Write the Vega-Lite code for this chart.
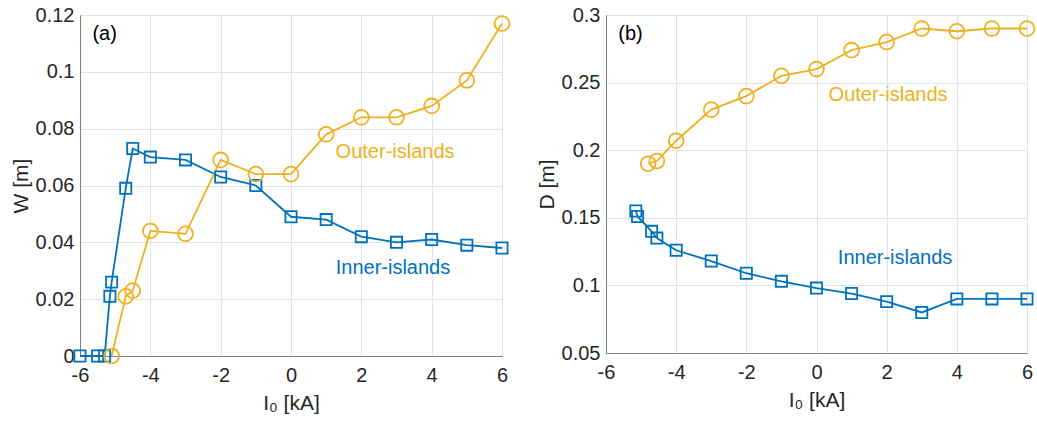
{
  "$schema": "https://vega.github.io/schema/vega-lite/v6.json",
  "background": "white",
  "padding": {"left": 9, "top": 4, "right": 1, "bottom": 2},
  "spacing": 21,
  "config": {
    "font": "Liberation Sans",
    "view": {"stroke": "#808080", "strokeWidth": 1},
    "axis": {
      "domainColor": "#808080",
      "gridColor": "#e3e3e3",
      "gridWidth": 1,
      "ticks": false,
      "labelFontSize": 20,
      "labelColor": "#262626",
      "labelFont": "Liberation Sans",
      "labelFlush": false,
      "labelOverlap": false,
      "titleFont": "Liberation Sans",
      "titleFontSize": 21,
      "titleFontWeight": "normal",
      "titleColor": "#262626",
      "labelPadding": 6
    },
    "axisX": {"labelPadding": 9}
  },
  "datasets": {
    "pts": [
      {"panel": "a", "series": "Inner-islands", "I0": -6, "v": 0},
      {"panel": "a", "series": "Inner-islands", "I0": -5.5, "v": 0},
      {"panel": "a", "series": "Inner-islands", "I0": -5.3, "v": 0},
      {"panel": "a", "series": "Inner-islands", "I0": -5.15, "v": 0.021},
      {"panel": "a", "series": "Inner-islands", "I0": -5.1, "v": 0.026},
      {"panel": "a", "series": "Inner-islands", "I0": -4.7, "v": 0.059},
      {"panel": "a", "series": "Inner-islands", "I0": -4.5, "v": 0.073},
      {"panel": "a", "series": "Inner-islands", "I0": -4, "v": 0.070},
      {"panel": "a", "series": "Inner-islands", "I0": -3, "v": 0.069},
      {"panel": "a", "series": "Inner-islands", "I0": -2, "v": 0.063},
      {"panel": "a", "series": "Inner-islands", "I0": -1, "v": 0.060},
      {"panel": "a", "series": "Inner-islands", "I0": 0, "v": 0.049},
      {"panel": "a", "series": "Inner-islands", "I0": 1, "v": 0.048},
      {"panel": "a", "series": "Inner-islands", "I0": 2, "v": 0.042},
      {"panel": "a", "series": "Inner-islands", "I0": 3, "v": 0.040},
      {"panel": "a", "series": "Inner-islands", "I0": 4, "v": 0.041},
      {"panel": "a", "series": "Inner-islands", "I0": 5, "v": 0.039},
      {"panel": "a", "series": "Inner-islands", "I0": 6, "v": 0.038},
      {"panel": "a", "series": "Outer-islands", "I0": -5.1, "v": 0},
      {"panel": "a", "series": "Outer-islands", "I0": -4.7, "v": 0.021},
      {"panel": "a", "series": "Outer-islands", "I0": -4.5, "v": 0.023},
      {"panel": "a", "series": "Outer-islands", "I0": -4, "v": 0.044},
      {"panel": "a", "series": "Outer-islands", "I0": -3, "v": 0.043},
      {"panel": "a", "series": "Outer-islands", "I0": -2, "v": 0.069},
      {"panel": "a", "series": "Outer-islands", "I0": -1, "v": 0.064},
      {"panel": "a", "series": "Outer-islands", "I0": 0, "v": 0.064},
      {"panel": "a", "series": "Outer-islands", "I0": 1, "v": 0.078},
      {"panel": "a", "series": "Outer-islands", "I0": 2, "v": 0.084},
      {"panel": "a", "series": "Outer-islands", "I0": 3, "v": 0.084},
      {"panel": "a", "series": "Outer-islands", "I0": 4, "v": 0.088},
      {"panel": "a", "series": "Outer-islands", "I0": 5, "v": 0.097},
      {"panel": "a", "series": "Outer-islands", "I0": 6, "v": 0.117},
      {"panel": "b", "series": "Inner-islands", "I0": -5.15, "v": 0.155},
      {"panel": "b", "series": "Inner-islands", "I0": -5.1, "v": 0.151},
      {"panel": "b", "series": "Inner-islands", "I0": -4.7, "v": 0.140},
      {"panel": "b", "series": "Inner-islands", "I0": -4.55, "v": 0.135},
      {"panel": "b", "series": "Inner-islands", "I0": -4, "v": 0.126},
      {"panel": "b", "series": "Inner-islands", "I0": -3, "v": 0.118},
      {"panel": "b", "series": "Inner-islands", "I0": -2, "v": 0.109},
      {"panel": "b", "series": "Inner-islands", "I0": -1, "v": 0.103},
      {"panel": "b", "series": "Inner-islands", "I0": 0, "v": 0.098},
      {"panel": "b", "series": "Inner-islands", "I0": 1, "v": 0.094},
      {"panel": "b", "series": "Inner-islands", "I0": 2, "v": 0.088},
      {"panel": "b", "series": "Inner-islands", "I0": 3, "v": 0.080},
      {"panel": "b", "series": "Inner-islands", "I0": 4, "v": 0.090},
      {"panel": "b", "series": "Inner-islands", "I0": 5, "v": 0.090},
      {"panel": "b", "series": "Inner-islands", "I0": 6, "v": 0.090},
      {"panel": "b", "series": "Outer-islands", "I0": -4.8, "v": 0.190},
      {"panel": "b", "series": "Outer-islands", "I0": -4.55, "v": 0.192},
      {"panel": "b", "series": "Outer-islands", "I0": -4, "v": 0.207},
      {"panel": "b", "series": "Outer-islands", "I0": -3, "v": 0.230},
      {"panel": "b", "series": "Outer-islands", "I0": -2, "v": 0.240},
      {"panel": "b", "series": "Outer-islands", "I0": -1, "v": 0.255},
      {"panel": "b", "series": "Outer-islands", "I0": 0, "v": 0.260},
      {"panel": "b", "series": "Outer-islands", "I0": 1, "v": 0.274},
      {"panel": "b", "series": "Outer-islands", "I0": 2, "v": 0.280},
      {"panel": "b", "series": "Outer-islands", "I0": 3, "v": 0.290},
      {"panel": "b", "series": "Outer-islands", "I0": 4, "v": 0.288},
      {"panel": "b", "series": "Outer-islands", "I0": 5, "v": 0.290},
      {"panel": "b", "series": "Outer-islands", "I0": 6, "v": 0.290}
    ],
    "notes": [
      {"panel": "a", "label": "(a)", "x": -5.3, "y": 0.1133, "series": "none"},
      {"panel": "a", "label": "Outer-islands", "x": 2.96, "y": 0.0718, "series": "Outer-islands"},
      {"panel": "a", "label": "Inner-islands", "x": 2.9, "y": 0.031, "series": "Inner-islands"},
      {"panel": "b", "label": "(b)", "x": -5.3, "y": 0.286, "series": "none"},
      {"panel": "b", "label": "Outer-islands", "x": 2.04, "y": 0.241, "series": "Outer-islands"},
      {"panel": "b", "label": "Inner-islands", "x": 2.24, "y": 0.120, "series": "Inner-islands"}
    ]
  },
  "hconcat": [
    {
      "width": 422,
      "height": 341,
      "layer": [
        {
          "data": {"name": "pts"},
          "transform": [{"filter": "datum.panel === 'a'"}],
          "mark": {"type": "line", "strokeWidth": 1.8},
          "encoding": {
            "x": {"field": "I0", "type": "quantitative", "scale": {"domain": [-6, 6], "nice": false}, "axis": {"values": [-6, -4, -2, 0, 2, 4, 6], "title": "I₀ [kA]", "titlePadding": 7, "labelExpr": "replace(datum.label, '−', '-')"}},
            "y": {"field": "v", "type": "quantitative", "scale": {"domain": [0, 0.12], "nice": false, "zero": false}, "axis": {"values": [0, 0.02, 0.04, 0.06, 0.08, 0.1, 0.12], "title": "W [m]", "titlePadding": 4, "format": "~g"}},
            "color": {"field": "series", "type": "nominal", "scale": {"domain": ["Inner-islands", "Outer-islands", "none"], "range": ["#0072BD", "#EDB120", "#000000"]}, "legend": null},
            "detail": {"field": "series"}
          }
        },
        {
          "data": {"name": "pts"},
          "transform": [{"filter": "datum.panel === 'a'"}],
          "mark": {"type": "point", "filled": false, "strokeWidth": 1.8, "opacity": 1},
          "encoding": {
            "x": {"field": "I0", "type": "quantitative"},
            "y": {"field": "v", "type": "quantitative"},
            "color": {"field": "series", "type": "nominal", "legend": null},
            "shape": {"field": "series", "type": "nominal", "scale": {"domain": ["Inner-islands", "Outer-islands"], "range": ["square", "circle"]}, "legend": null},
            "size": {"field": "series", "type": "nominal", "scale": {"domain": ["Inner-islands", "Outer-islands"], "range": [125, 220]}, "legend": null}
          }
        },
        {
          "data": {"name": "notes"},
          "transform": [{"filter": "datum.panel === 'a'"}],
          "mark": {"type": "text", "fontSize": 20, "font": "Liberation Sans", "align": "center", "baseline": "middle"},
          "encoding": {
            "x": {"field": "x", "type": "quantitative"},
            "y": {"field": "y", "type": "quantitative"},
            "text": {"field": "label"},
            "color": {"field": "series", "type": "nominal", "legend": null}
          }
        }
      ]
    },
    {
      "width": 421,
      "height": 338,
      "layer": [
        {
          "data": {"name": "pts"},
          "transform": [{"filter": "datum.panel === 'b'"}],
          "mark": {"type": "line", "strokeWidth": 1.8},
          "encoding": {
            "x": {"field": "I0", "type": "quantitative", "scale": {"domain": [-6, 6], "nice": false}, "axis": {"values": [-6, -4, -2, 0, 2, 4, 6], "title": "I₀ [kA]", "titlePadding": 7, "labelExpr": "replace(datum.label, '−', '-')"}},
            "y": {"field": "v", "type": "quantitative", "scale": {"domain": [0.05, 0.3], "nice": false, "zero": false}, "axis": {"values": [0.05, 0.1, 0.15, 0.2, 0.25, 0.3], "title": "D [m]", "titlePadding": 4, "format": "~g"}},
            "color": {"field": "series", "type": "nominal", "scale": {"domain": ["Inner-islands", "Outer-islands", "none"], "range": ["#0072BD", "#EDB120", "#000000"]}, "legend": null},
            "detail": {"field": "series"}
          }
        },
        {
          "data": {"name": "pts"},
          "transform": [{"filter": "datum.panel === 'b'"}],
          "mark": {"type": "point", "filled": false, "strokeWidth": 1.8, "opacity": 1},
          "encoding": {
            "x": {"field": "I0", "type": "quantitative"},
            "y": {"field": "v", "type": "quantitative"},
            "color": {"field": "series", "type": "nominal", "legend": null},
            "shape": {"field": "series", "type": "nominal", "scale": {"domain": ["Inner-islands", "Outer-islands"], "range": ["square", "circle"]}, "legend": null},
            "size": {"field": "series", "type": "nominal", "scale": {"domain": ["Inner-islands", "Outer-islands"], "range": [125, 220]}, "legend": null}
          }
        },
        {
          "data": {"name": "notes"},
          "transform": [{"filter": "datum.panel === 'b'"}],
          "mark": {"type": "text", "fontSize": 20, "font": "Liberation Sans", "align": "center", "baseline": "middle"},
          "encoding": {
            "x": {"field": "x", "type": "quantitative"},
            "y": {"field": "y", "type": "quantitative"},
            "text": {"field": "label"},
            "color": {"field": "series", "type": "nominal", "legend": null}
          }
        }
      ]
    }
  ]
}
